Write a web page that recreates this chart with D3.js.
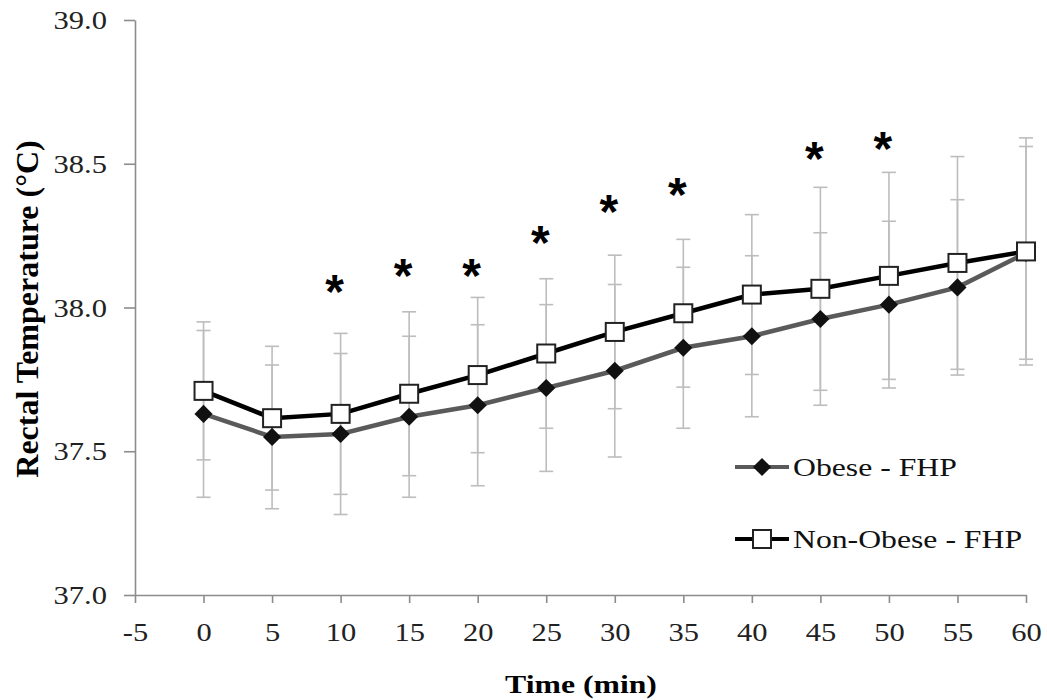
<!DOCTYPE html>
<html>
<head>
<script src="https://d3js.org/d3.v7.min.js"></script>
<style>
  body { margin: 0; background: #fff; }
  svg text { font-family: "Liberation Serif", "Times New Roman", serif; }
</style>
</head>
<body>
<svg id="chart" width="1047" height="700"></svg>
<script>
// values
const times = [0, 5, 10, 15, 20, 25, 30, 35, 40, 45, 50, 55, 60];
const obese = [37.63, 37.55, 37.56, 37.62, 37.66, 37.72, 37.78, 37.86, 37.90, 37.96, 38.01, 38.07, 38.19];
const obeseSD = [0.29, 0.25, 0.28, 0.28, 0.28, 0.29, 0.30, 0.28, 0.28, 0.30, 0.29, 0.305, 0.37];
const nonObese = [37.71, 37.615, 37.63, 37.70, 37.765, 37.84, 37.915, 37.98, 38.045, 38.065, 38.11, 38.155, 38.195];
const nonObeseSD = [0.24, 0.25, 0.28, 0.285, 0.27, 0.26, 0.267, 0.257, 0.278, 0.353, 0.36, 0.37, 0.395];
const starTimes = [10, 15, 20, 25, 30, 35, 45, 50];
const starTemps = [38.08, 38.135, 38.135, 38.25, 38.355, 38.415, 38.54, 38.575];
const xTicks = [-5, 0, 5, 10, 15, 20, 25, 30, 35, 40, 45, 50, 55, 60];
const yTicks = [37.0, 37.5, 38.0, 38.5, 39.0];
const seriesNames = ["Obese - FHP", "Non-Obese - FHP"];

const svg = d3.select("#chart");
const x = d3.scaleLinear().domain([-5, 60]).range([135, 1026]);
const y = d3.scaleLinear().domain([37, 39]).range([595, 20]);
const stretch = "scale(1.22,1)"; // source image is a bit wide

// axes
const gx = svg.append("g").attr("transform", `translate(0,${y(37)})`)
  .call(d3.axisBottom(x).tickValues(xTicks).tickFormat(d => String(d)).tickSizeInner(8).tickSizeOuter(0));
const gy = svg.append("g").attr("transform", `translate(${x(-5)},0)`)
  .call(d3.axisLeft(y).tickValues(yTicks).tickFormat(d3.format(".1f")).tickSizeInner(11).tickSizeOuter(0));

[gx, gy].forEach(g => {
  g.select(".domain").attr("stroke", "#8c8c8c").attr("stroke-width", 1.6);
  g.selectAll(".tick line").attr("stroke", "#8c8c8c").attr("stroke-width", 1.6);
  g.selectAll(".tick text").attr("font-size", 25)
    .attr("fill", "#222").attr("transform", stretch);
});
gx.selectAll(".tick text").attr("dy", null).attr("y", 46);
gy.selectAll(".tick text").attr("x", -23).attr("dy", "0.34em");

// error bars (both groups, light grey)
function errorBars(vals, sd) {
  const g = svg.append("g").attr("stroke", "#bdbdbd").attr("stroke-width", 1.6).attr("fill", "none");
  times.forEach((t, i) => {
    const cx = x(t), hi = y(vals[i] + sd[i]), lo = y(vals[i] - sd[i]);
    g.append("line").attr("x1", cx).attr("x2", cx).attr("y1", hi).attr("y2", lo);
    g.append("line").attr("x1", cx - 7).attr("x2", cx + 7).attr("y1", hi).attr("y2", hi);
    g.append("line").attr("x1", cx - 7).attr("x2", cx + 7).attr("y1", lo).attr("y2", lo);
  });
}
errorBars(obese, obeseSD);
errorBars(nonObese, nonObeseSD);

const line = d3.line().x((d, i) => x(times[i])).y(d => y(d));
const diamond = d3.symbol().type(d3.symbolDiamond2).size(210);

// obese series: grey line with black diamonds
svg.append("path").datum(obese).attr("d", line)
  .attr("fill", "none").attr("stroke", "#5a5a5a").attr("stroke-width", 4.5);
svg.selectAll(".dia").data(obese).enter().append("path")
  .attr("class", "dia")
  .attr("d", diamond)
  .attr("transform", (d, i) => `translate(${x(times[i])},${y(d)})`)
  .attr("fill", "#111");

// non-obese series: black line with open squares
svg.append("path").datum(nonObese).attr("d", line)
  .attr("fill", "none").attr("stroke", "#000").attr("stroke-width", 4.5);
svg.selectAll(".sq").data(nonObese).enter().append("rect")
  .attr("class", "sq")
  .attr("x", (d, i) => x(times[i]) - 9)
  .attr("y", d => y(d) - 9)
  .attr("width", 18).attr("height", 18)
  .attr("fill", "#fff").attr("stroke", "#222").attr("stroke-width", 2);

// significance asterisks
svg.selectAll(".star").data(starTimes).enter().append("text")
  .attr("class", "star")
  .attr("x", d => x(d) - 6)
  .attr("y", (d, i) => y(starTemps[i]) + 23)
  .attr("text-anchor", "middle")
  .style("font-family", "Liberation Sans")
  .style("font-weight", "bold")
  .attr("font-size", 48)
  .text("*");

// axis titles
svg.append("text")
  .attr("transform", `translate(581,693) ${stretch}`)
  .attr("text-anchor", "middle")
  .attr("font-weight", "bold").attr("font-size", 26)
  .text("Time (min)");
svg.append("text")
  .attr("transform", "translate(38,309) rotate(-90)")
  .attr("text-anchor", "middle")
  .attr("font-weight", "bold").attr("font-size", 32)
  .text("Rectal Temperature (°C)");

// legend
const legend = svg.append("g");
const legRows = [467, 539];
legend.append("line").attr("x1", 735).attr("x2", 789).attr("y1", legRows[0]).attr("y2", legRows[0])
  .attr("stroke", "#5a5a5a").attr("stroke-width", 4);
legend.append("path").attr("d", diamond).attr("transform", `translate(762,${legRows[0]})`).attr("fill", "#111");
legend.append("line").attr("x1", 735).attr("x2", 789).attr("y1", legRows[1]).attr("y2", legRows[1])
  .attr("stroke", "#000").attr("stroke-width", 4);
legend.append("rect").attr("x", 753).attr("y", legRows[1] - 9).attr("width", 18).attr("height", 18)
  .attr("fill", "#fff").attr("stroke", "#222").attr("stroke-width", 2);
legend.selectAll(".lt").data(seriesNames).enter().append("text")
  .attr("class", "lt")
  .attr("transform", (d, i) => `translate(793,${legRows[i] + 9}) ${stretch}`)
  .attr("font-size", 26)
  .attr("fill", "#111")
  .text(d => d);
</script>
</body>
</html>
